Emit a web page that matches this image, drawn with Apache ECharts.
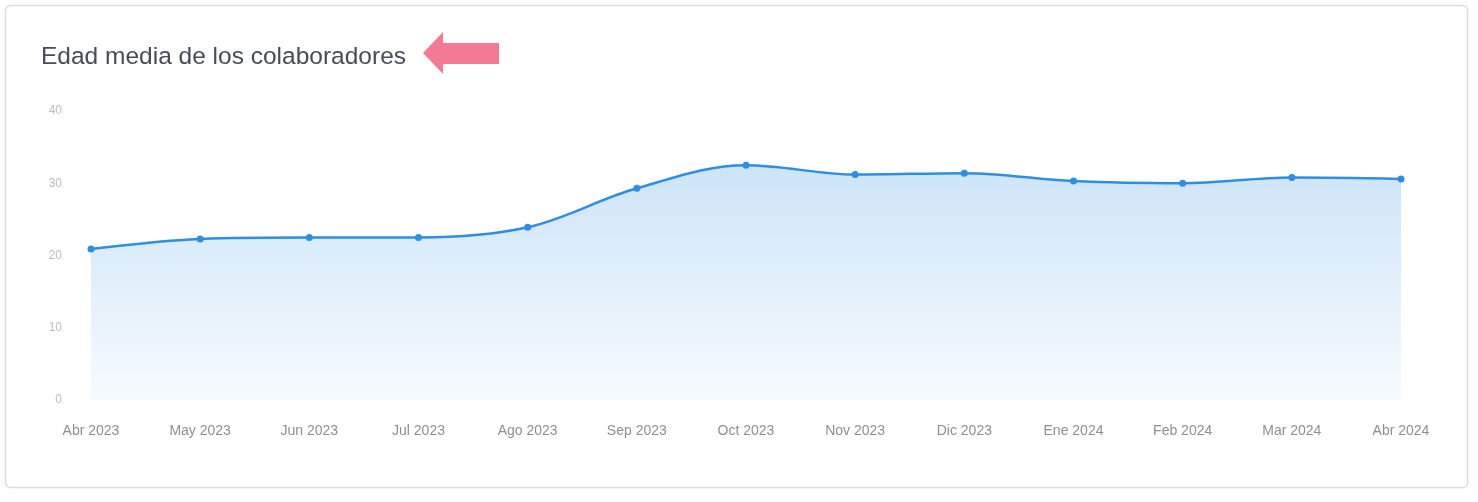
<!DOCTYPE html>
<html>
<head>
<meta charset="utf-8">
<script src="https://cdn.jsdelivr.net/npm/echarts@6/dist/echarts.min.js"></script>
<style>
html,body{margin:0;padding:0;background:#fff;}
#c{width:1478px;height:502px;}
</style>
</head>
<body>
<div id="c"></div>
<script>
const titleText = 'Edad media de los colaboradores';
const categories = ['Abr 2023','May 2023','Jun 2023','Jul 2023','Ago 2023','Sep 2023','Oct 2023','Nov 2023','Dic 2023','Ene 2024','Feb 2024','Mar 2024','Abr 2024'];
const edadMedia = [20.9, 22.3, 22.5, 22.5, 23.9, 29.3, 32.5, 31.2, 31.4, 30.3, 30.0, 30.8, 30.6];
const yTicks = [0, 10, 20, 30, 40];

const chart = echarts.init(document.getElementById('c'), null, {renderer:'canvas'});
chart.setOption({
  animation:false,
  backgroundColor:'#fff',
  title:{
    text:titleText, left:36, top:40,
    textStyle:{fontFamily:'Liberation Sans, Arial, sans-serif', fontSize:24.5, fontWeight:'normal', color:'#474c59'}
  },
  graphic:[
    {type:'rect', shape:{x:5.5, y:5.5, width:1462, height:482, r:5}, style:{fill:'none', stroke:'#dcdde1', lineWidth:1.5}, silent:true, z:-1},
    {type:'polygon', shape:{points:[[423,53],[443,32],[443,43],[499,43],[499,64],[443,64],[443,74]]}, style:{fill:'#f47a94'}, silent:true}
  ],
  grid:{left:91, right:77, top:111, bottom:102, containLabel:false},
  xAxis:{
    type:'category', data:categories, boundaryGap:false,
    axisLine:{show:false}, axisTick:{show:false}, splitLine:{show:false},
    axisLabel:{color:'#8f8f8f', fontSize:14, margin:24, fontFamily:'Liberation Sans, Arial, sans-serif', interval:0}
  },
  yAxis:{
    type:'value', min:yTicks[0], max:yTicks[yTicks.length-1], interval:10,
    axisLine:{show:false}, axisTick:{show:false}, splitLine:{show:false},
    axisLabel:{color:'#bdbdbd', fontSize:12, margin:29, fontFamily:'Liberation Sans, Arial, sans-serif'}
  },
  series:[{
    type:'line', data:edadMedia, smooth:0.35,
    symbol:'circle', symbolSize:7,
    lineStyle:{color:'#2e8fe2', width:2.5},
    itemStyle:{color:'#2e8fe2'},
    areaStyle:{color:new echarts.graphic.LinearGradient(0,0,0,1,[
      {offset:0, color:'rgba(46,143,226,0.34)'},
      {offset:1, color:'rgba(46,143,226,0.06)'}
    ])}
  }]
});
</script>
</body>
</html>
